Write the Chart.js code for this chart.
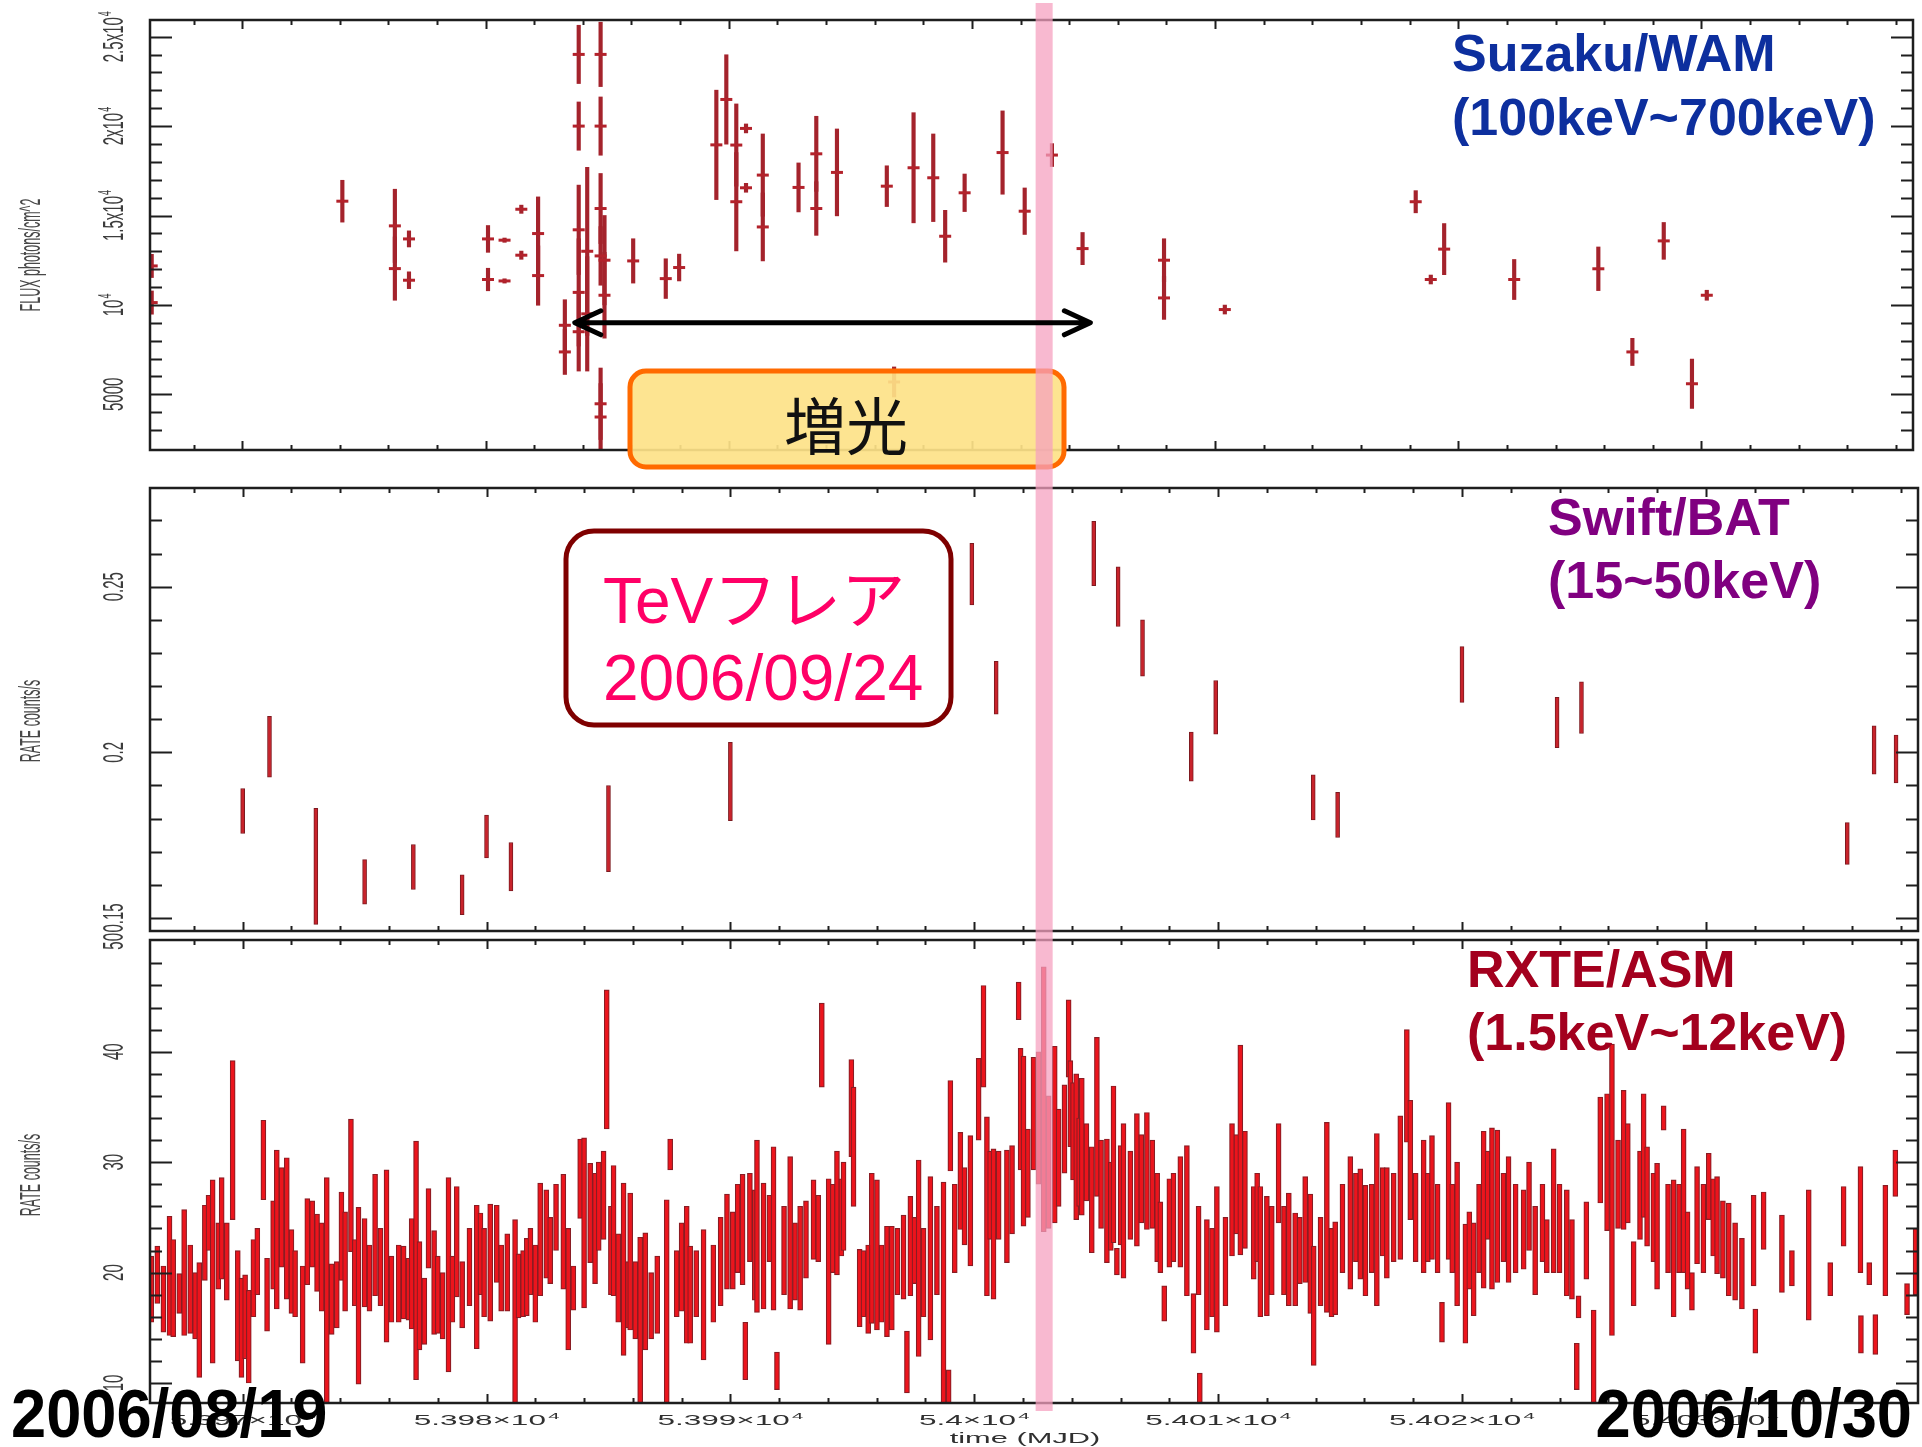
<!DOCTYPE html>
<html>
<head>
<meta charset="utf-8">
<title>Mrk 501 light curves, 2006/08/19 – 2006/10/30</title>
<script src="https://cdn.jsdelivr.net/npm/chart.js@4.4.1/dist/chart.umd.min.js"></script>
<style>
  html, body { margin: 0; padding: 0; background: #ffffff; }
  #wrap { position: relative; width: 1922px; height: 1447px; overflow: hidden; background: #ffffff; }
  #wrap canvas { position: absolute; left: 0; top: 0; }
</style>
</head>
<body>
<div id="wrap">
  <canvas id="cWam" width="1922" height="1447"></canvas>
  <canvas id="cBat" width="1922" height="1447"></canvas>
  <canvas id="cAsm" width="1922" height="1447"></canvas>
  <canvas id="cNote" width="1922" height="1447"></canvas>
</div>
<script>
// ---------------- Suzaku/WAM 100–700 keV flux (photons/cm^2) ----------------
const wamMjd = [53966.27, 53966.27, 53974.11, 53976.27, 53976.27, 53976.85, 53976.85, 53980.10, 53980.10, 53980.78,
  53980.78, 53981.47, 53981.47, 53982.16, 53982.16, 53983.26, 53983.26, 53983.83, 53983.83, 53983.83,
  53983.83, 53983.83, 53984.18, 53984.18, 53984.73, 53984.73, 53984.73, 53984.73, 53984.73, 53984.73,
  53984.89, 53984.89, 53986.07, 53987.41, 53987.96, 53989.49, 53989.90, 53990.31, 53990.31, 53990.71,
  53990.71, 53991.40, 53991.40, 53992.87, 53993.60, 53993.60, 53994.45, 53996.50, 53996.80, 53997.60,
  53998.41, 53998.90, 53999.70, 54001.26, 54002.17, 54003.29, 54004.55, 54007.90, 54007.90, 54010.40,
  54018.25, 54018.87, 54019.42, 54022.30, 54025.76, 54027.16, 54028.45, 54029.61, 54030.22];
const wamFlux = [12180, 10130, 15800, 14420, 12030, 13690, 11380, 13690, 11420, 13620,
  11340, 15350, 12780, 13990, 11640, 8860, 7370, 24010, 20000, 14200,
  10700, 8500, 13000, 9500, 24010, 20000, 15390, 12740, 4470, 3730,
  12500, 10540, 12460, 11470, 12090, 18950, 21490, 18940, 15770, 19870,
  16550, 17260, 14360, 16570, 18450, 15390, 17410, 16640, 5690, 17670,
  17110, 13840, 16270, 18520, 15240, 18380, 13150, 12500, 10390, 9740,
  15770, 11420, 13120, 11420, 12020, 7370, 13580, 5590, 10540];
const wamErr = [650, 650, 1170, 2050, 1770, 450, 470, 750, 630, 120,
  120, 230, 230, 2050, 1660, 1430, 1260, 1630, 1350, 2500,
  3000, 2200, 4700, 3200, 1800, 1630, 1960, 1640, 2000, 1870,
  2500, 2400, 1240, 1110, 750, 3060, 2500, 2300, 2750, 250,
  250, 2300, 1900, 1370, 2100, 1500, 2430, 1140, 840, 3080,
  2450, 1450, 1050, 2330, 1300, 640, 900, 1200, 1200, 250,
  620, 250, 1430, 1120, 1220, 760, 1030, 1380, 280];

// ---------------- Swift/BAT 15–50 keV rate (counts/s) ----------------
const batMjd = [53970.0, 53971.1, 53973.0, 53975.0, 53977.0, 53979.0, 53980.0, 53981.0, 53985.0, 53990.0,
  53999.9, 54000.9, 54004.9, 54005.9, 54006.9, 54008.9, 54009.9, 54013.9, 54014.9, 54020.0,
  54023.9, 54024.9, 54035.8, 54036.9, 54037.8];
const batRate = [0.1823, 0.2017, 0.1656, 0.1609, 0.1654, 0.1570, 0.1746, 0.1655, 0.1770, 0.1912,
  0.2538, 0.2195, 0.2600, 0.2470, 0.2315, 0.1987, 0.2136, 0.1864, 0.1811, 0.2235,
  0.2090, 0.2135, 0.1725, 0.2007, 0.1980];
const batErr = [0.0068, 0.0092, 0.0175, 0.0067, 0.0068, 0.0060, 0.0065, 0.0073, 0.0130, 0.0118,
  0.0093, 0.0080, 0.0097, 0.0090, 0.0085, 0.0074, 0.0081, 0.0068, 0.0068, 0.0084,
  0.0076, 0.0078, 0.0063, 0.0073, 0.0072];

// ---------------- RXTE/ASM 1.5–12 keV rate (counts/s) ----------------
const asmMjd = [
  53966.25, 53966.50, 53966.75, 53967.00, 53967.15, 53967.40, 53967.60, 53967.85, 53968.05, 53968.22,
  53968.45, 53968.60, 53968.77, 53969.00, 53969.14, 53969.35, 53969.59, 53969.80, 53969.95, 53970.10,
  53970.25, 53970.44, 53970.60, 53970.85, 53971.00, 53971.25, 53971.40, 53971.60, 53971.81, 53972.00,
  53972.15, 53972.46, 53972.65, 53972.85, 53973.05, 53973.24, 53973.45, 53973.65, 53973.86, 53974.05,
  53974.20, 53974.44, 53974.60, 53974.75, 53975.00, 53975.20, 53975.43, 53975.65, 53975.90, 53976.10,
  53976.40, 53976.60, 53976.80, 53976.93, 53977.11, 53977.25, 53977.45, 53977.62, 53977.85, 53978.00,
  53978.20, 53978.44, 53978.60, 53978.78, 53979.00, 53979.30, 53979.60, 53979.75, 53979.90, 53980.15,
  53980.42, 53980.60, 53980.85, 53981.17, 53981.31, 53981.50, 53981.65, 53981.80, 53982.00, 53982.20,
  53982.45, 53982.61, 53982.85, 53983.15, 53983.35, 53983.56, 53983.84, 53984.00, 53984.25, 53984.45,
  53984.60,
  53984.80, 53984.93, 53985.10, 53985.21, 53985.40, 53985.62, 53985.80, 53985.89, 53986.10, 53986.30,
  53986.51, 53986.75, 53987.00, 53987.39, 53987.53, 53987.80, 53988.00, 53988.21, 53988.35, 53988.60,
  53988.90, 53989.30, 53989.60, 53989.86, 53990.10, 53990.30, 53990.50, 53990.61, 53990.80, 53991.00,
  53991.09, 53991.36, 53991.60, 53991.77, 53991.91, 53992.20, 53992.45, 53992.65, 53992.86, 53993.10,
  53993.41, 53993.60, 53993.75, 53994.03, 53994.20, 53994.37, 53994.55, 53994.64, 53994.96, 53995.05,
  53995.30, 53995.46, 53995.65, 53995.80, 53996.01, 53996.20, 53996.42, 53996.62, 53996.85, 53997.10,
  53997.24, 53997.38, 53997.55, 53997.72, 53997.92, 53998.20, 53998.47, 53998.74, 53998.95, 53999.02,
  53999.20, 53999.43, 53999.60, 53999.84, 54000.18, 54000.38, 54000.52, 54000.65, 54000.79, 54001.00,
  54001.34, 54001.55, 54001.82, 54001.90, 54002.02, 54002.20, 54002.43, 54002.64, 54002.85, 54003.05,
  54003.30, 54003.46, 54003.70, 54003.87, 54003.94, 54004.05, 54004.18, 54004.30, 54004.41, 54004.60,
  54004.82, 54005.03, 54005.20, 54005.44, 54005.60, 54005.71, 54005.85, 54006.00, 54006.12, 54006.40,
  54006.67, 54006.85, 54007.08, 54007.30, 54007.50, 54007.63, 54007.79, 54008.00, 54008.17, 54008.45,
  54008.72, 54008.99, 54009.20, 54009.25, 54009.54, 54009.75, 54009.95, 54010.30, 54010.57, 54010.75,
  54010.91, 54011.10, 54011.46, 54011.60, 54011.73, 54012.00, 54012.20, 54012.48, 54012.70, 54012.90,
  54013.16, 54013.35, 54013.57, 54013.78, 54013.92, 54014.20, 54014.46, 54014.65, 54014.80, 54015.10,
  54015.42, 54015.65, 54015.83, 54016.04, 54016.30, 54016.51, 54016.75, 54016.92, 54017.20, 54017.47,
  54017.74, 54017.88, 54018.10, 54018.43, 54018.60, 54018.77, 54019.00, 54019.18, 54019.45, 54019.60,
  54019.80, 54020.14, 54020.30, 54020.48, 54020.70, 54020.89, 54021.05, 54021.23,
  54021.45, 54021.70, 54021.91, 54022.20, 54022.53, 54022.75, 54023.00, 54023.30, 54023.48, 54023.76,
  54024.00, 54024.30, 54024.51, 54024.71, 54024.78, 54025.10, 54025.40, 54025.67, 54025.95, 54026.15,
  54026.40, 54026.63, 54026.80, 54027.04, 54027.30, 54027.45, 54027.59, 54027.85, 54028.00, 54028.27,
  54028.45, 54028.68, 54028.90, 54029.09, 54029.25, 54029.43, 54029.64, 54029.90, 54030.12, 54030.30,
  54030.46, 54030.70, 54030.94, 54031.20, 54031.48, 54031.96, 54032.03, 54032.37, 54033.12, 54033.53,
  54034.22, 54035.10, 54035.65, 54036.34, 54036.36, 54036.70, 54036.95, 54037.36, 54037.77, 54038.25,
  54038.60];
const asmRate = [
  18.5, 19.8, 17.6, 19.7, 18.6, 18.1, 20.0, 18.5, 17.0, 15.7,
  22.7, 24.5, 20.1, 21.5, 24.0, 21.0, 32.0, 17.0, 15.0, 16.0,
  14.2, 19.5, 21.0, 30.2, 18.0, 22.5, 23.9, 25.0, 24.0, 20.1,
  19.0, 16.2, 22.8, 23.5, 21.8, 20.5, 18.4, 17.6, 18.0, 23.3,
  21.0, 27.9, 20.0, 17.9, 20.9, 19.5, 23.4, 20.5, 21.5, 18.5,
  19.0, 19.1, 18.5, 19.9, 21.1, 17.9, 16.5, 24.0, 19.1, 18.0,
  17.0, 19.8, 18.5, 22.8, 18.0, 20.5, 19.6, 21.7, 20.0, 20.9,
  22.6, 19.5, 20.0, 16.5, 18.8, 19.0, 19.6, 21.0, 19.0, 23.0,
  23.5, 22.0, 25.0, 23.7, 18.5, 18.6, 28.5, 24.5, 25.4, 24.0,
  26.0,
  27.0, 39.3, 22.0, 23.8, 19.5, 20.3, 18.0, 21.0, 17.5, 15.7,
  18.3, 17.0, 18.0, 17.4, 30.7, 19.0, 20.5, 19.8, 18.0, 19.0,
  18.0, 19.0, 21.0, 22.8, 22.0, 24.0, 23.9, 12.9, 25.0, 22.5,
  24.2, 22.4, 24.0, 24.0, 11.1, 22.0, 23.6, 21.0, 21.3, 23.0,
  24.8, 24.0, 40.6, 21.0, 24.0, 25.4, 25.0, 26.0, 34.9, 31.4,
  18.6, 19.0, 18.5, 22.2, 21.6, 19.0, 19.2, 19.5, 21.0, 21.4,
  11.9, 22.4, 22.0, 21.3, 20.0, 21.3, 22.0, 18.2, 9.7, 33.3,
  24.0, 28.3, 26.0, 26.5, 35.7, 41.4, 26.0, 27.0, 24.4, 27.0,
  26.0, 27.5, 44.6, 34.8, 31.9, 29.0, 34.4, 34.0, 35.7, 30.0,
  32.5, 30.4, 33.0, 41.2, 35.3, 32.8, 31.4, 30.0, 31.4, 30.0,
  26.6, 34.1, 28.0, 26.5, 26.0, 29.8, 21.0, 27.0, 26.5, 27.0,
  28.4, 28.5, 29.2, 28.0, 25.0, 23.2, 17.2, 24.5, 25.0, 25.5,
  24.7, 15.4, 22.0, 9.4, 19.8, 20.0, 21.2, 21.0, 27.5, 28.0,
  31.1, 27.5, 23.6, 25.0, 21.9, 21.5, 22.0, 29.0, 22.0, 22.1,
  21.2, 22.0, 23.9, 21.7, 17.0, 21.0, 25.0, 20.0, 20.4, 24.0,
  24.5, 25.0, 24.4, 22.9, 24.0, 24.8, 25.5, 24.5, 25.0, 27.7,
  36.9, 30.2, 25.0, 26.0, 25.0, 26.8, 24.0, 15.5, 28.3, 24.0,
  23.5, 19.0, 22.0, 20.3, 24.0, 25.7, 27.0, 25.8,
  26.0, 25.0, 24.8, 24.0, 23.9, 26.0, 22.0, 24.5, 22.4, 25.6,
  24.0, 22.7, 21.2, 11.5, 16.9, 22.9, 12.4, 31.1, 30.0, 27.5,
  28.0, 30.2, 29.0, 19.9, 27.0, 30.6, 26.9, 25.0, 24.2, 34.0,
  24.0, 22.2, 24.0, 26.5, 22.0, 18.3, 25.2, 24.0, 27.8, 25.0,
  24.3, 23.0, 22.1, 21.0, 19.9, 22.9, 14.7, 24.7, 21.7, 20.4,
  21.6, 19.4, 25.1, 24.8, 14.4, 19.9, 14.4, 22.9, 29.0, 17.6,
  21.0];
const asmErr = [
  3.0, 2.6, 3.0, 5.4, 4.4, 1.8, 5.7, 4.0, 3.0, 5.2,
  3.4, 2.5, 8.3, 3.0, 4.6, 3.5, 7.2, 5.0, 4.5, 3.8,
  4.2, 3.5, 3.0, 3.6, 3.3, 4.0, 7.2, 4.5, 6.4, 3.8,
  3.0, 4.4, 3.9, 3.0, 3.5, 4.0, 10.2, 3.2, 3.0, 4.0,
  4.5, 6.0, 3.0, 8.0, 4.0, 3.0, 5.5, 3.5, 7.8, 3.0,
  3.5, 3.3, 2.8, 5.0, 10.8, 4.9, 3.0, 3.6, 4.7, 3.5,
  3.0, 8.8, 3.0, 5.0, 3.0, 3.5, 6.5, 3.7, 4.0, 5.3,
  3.5, 3.0, 3.5, 8.3, 2.9, 3.0, 3.5, 3.0, 3.5, 5.1,
  4.0, 3.0, 3.0, 5.2, 5.5, 2.0, 3.6, 7.7, 4.5, 5.0,
  4.0,
  4.0, 6.3, 4.0, 5.9, 4.0, 7.8, 3.0, 6.2, 3.5, 7.5,
  5.3, 3.0, 3.5, 9.2, 1.4, 3.0, 4.0, 6.2, 4.4, 3.0,
  5.9, 3.5, 4.0, 4.3, 3.5, 4.0, 5.0, 2.6, 4.0, 5.0,
  7.8, 5.7, 3.0, 7.4, 1.7, 4.0, 6.9, 3.5, 4.7, 3.5,
  3.6, 3.0, 3.8, 7.5, 4.0, 5.6, 3.5, 4.0, 4.4, 5.4,
  3.5, 3.0, 4.0, 6.8, 6.8, 3.5, 5.0, 4.7, 3.0, 3.8,
  2.8, 4.5, 3.0, 8.9, 4.0, 7.4, 4.0, 10.0, 1.5, 4.1,
  4.0, 4.4, 3.5, 5.9, 3.7, 4.6, 8.1, 4.0, 6.8, 4.0,
  5.1, 4.0, 1.7, 5.5, 7.7, 4.0, 5.1, 6.0, 12.0, 6.0,
  8.0, 4.4, 4.0, 3.5, 3.9, 4.4, 6.6, 4.0, 6.2, 3.5,
  4.8, 7.2, 4.0, 5.6, 4.0, 7.1, 1.2, 4.5, 7.0, 4.0,
  6.0, 4.0, 5.3, 4.0, 4.0, 3.2, 1.6, 4.0, 4.0, 5.0,
  6.8, 2.7, 4.0, 1.5, 5.0, 4.0, 6.6, 4.0, 6.0, 4.5,
  9.5, 5.3, 4.2, 4.0, 5.9, 5.4, 4.0, 4.5, 4.0, 5.1,
  4.2, 3.0, 4.8, 5.4, 5.4, 4.0, 8.6, 4.0, 4.2, 4.0,
  6.0, 4.0, 5.0, 5.0, 4.0, 7.8, 4.0, 5.0, 4.0, 6.5,
  5.1, 5.4, 4.0, 6.0, 4.0, 5.6, 4.0, 1.8, 7.1, 4.0,
  6.5, 5.4, 3.5, 4.2, 4.0, 7.1, 4.0, 7.3,
  6.9, 4.0, 5.7, 4.0, 3.6, 4.0, 4.0, 3.5, 2.4, 5.6,
  4.0, 4.8, 3.6, 2.1, 1.0, 3.5, 4.2, 4.8, 6.2, 13.2,
  4.0, 6.3, 4.5, 2.9, 4.0, 5.6, 4.5, 4.0, 5.7, 1.1,
  4.0, 6.2, 4.0, 6.5, 3.5, 1.7, 4.4, 4.0, 3.0, 3.5,
  4.4, 3.5, 4.2, 3.5, 3.2, 4.1, 2.0, 2.6, 3.5, 1.6,
  5.9, 1.5, 2.7, 4.8, 1.7, 1.0, 1.8, 5.0, 2.1, 1.4,
  3.0];

// ---------------- axes: ranges, ticks, tick labels ----------------
const mjdRange = [53966.2, 54038.7];
const mjdMajor = [53970, 53980, 53990, 54000, 54010, 54020, 54030];
const mjdLabels = ['5.397', '5.398', '5.399', '5.4', '5.401', '5.402', '5.403'];
const wamRange = [1885, 25934];
const wamTicks = [5000, 10000, 15000, 20000, 25000];
const wamTickLabels = [['5000', ''], ['10', '4'], ['1.5x10', '4'], ['2x10', '4'], ['2.5x10', '4']];
const batRange = [0.14608, 0.27979];
const batTicks = [0.15, 0.2, 0.25];
const batTickLabels = ['0.15', '0.2', '0.25'];
const asmRange = [8.19, 50.12];
const asmTicks = [10, 20, 30, 40, 50];
const asmTickLabels = ['10', '20', '30', '40', '50'];

// TeV flare window and the brightening period marked on the WAM panel
const flareBand = [54002.62, 54003.32];
const brightening = [53983.67, 54004.87];
const brighteningLevel = 9000;

// ---------------- page geometry ----------------
const W = 1922, H = 1447;
const PLOT_LEFT = 150, PLOT_RIGHT = 1918;
const FONT = '"Liberation Sans", Arial, sans-serif';

function errorBars(t, v, e) {
  return t.map((x, i) => ({ x, y: [v[i] - e[i], v[i] + e[i]] }));
}
function centres(t, v) {
  return t.map((x, i) => ({ x, y: v[i] }));
}

// text centred on the origin, with an optional superscript
function drawSupText(ctx, base, sup, size) {
  ctx.font = size + 'px ' + FONT;
  const w = ctx.measureText(base).width;
  const supSize = Math.round(size * 0.62);
  ctx.font = supSize + 'px ' + FONT;
  const sw = sup ? ctx.measureText(sup).width + 1 : 0;
  const left = -(w + sw) / 2;
  ctx.font = size + 'px ' + FONT;
  ctx.fillText(base, left, 0);
  if (sup) {
    ctx.font = supSize + 'px ' + FONT;
    ctx.fillText(sup, left + w + 1, -size * 0.42);
  }
}

function axisFrame(spec) {
  return {
    id: 'axisFrame',
    afterDatasetsDraw(chart) {
      const { ctx, chartArea: a, scales: { x, y } } = chart;
      ctx.save();
      ctx.strokeStyle = '#1e1e1e';
      ctx.lineWidth = 2;
      ctx.beginPath();
      // time ticks every 2 days, long ones every 10 days, on top and bottom
      for (let d = 53968; d <= 54038; d += 2) {
        const px = Math.round(x.getPixelForValue(d)) + 0.5;
        const len = d % 10 === 0 ? 9 : 5;
        ctx.moveTo(px, a.top); ctx.lineTo(px, a.top + len);
        ctx.moveTo(px, a.bottom); ctx.lineTo(px, a.bottom - len);
      }
      // value ticks on left and right
      spec.yTicks.forEach(t => {
        const py = Math.round(y.getPixelForValue(t.v)) + 0.5;
        if (py < a.top + 2 || py > a.bottom - 2) return;
        const len = t.major ? 22 : 12;
        ctx.moveTo(a.left, py); ctx.lineTo(a.left + len, py);
        ctx.moveTo(a.right, py); ctx.lineTo(a.right - len, py);
      });
      ctx.stroke();
      ctx.lineWidth = 2.5;
      ctx.strokeRect(a.left, a.top, a.right - a.left, a.bottom - a.top);

      // rotated tick labels on the value axis
      ctx.fillStyle = '#3c3c3c';
      ctx.textBaseline = 'alphabetic';
      ctx.textAlign = 'left';
      spec.yLabels.forEach(l => {
        const py = y.getPixelForValue(l.v);
        ctx.save();
        ctx.translate(123, py);
        ctx.scale(1.95, 1);
        ctx.rotate(-Math.PI / 2);
        drawSupText(ctx, l.base, l.sup, 15);
        ctx.restore();
      });
      // axis title
      ctx.save();
      ctx.fillStyle = '#484848';
      ctx.translate(40, spec.titleY);
      ctx.scale(2.4, 1);
      ctx.rotate(-Math.PI / 2);
      drawSupText(ctx, spec.title, '', 12.5);
      ctx.restore();

      if (spec.timeLabels) {
        ctx.fillStyle = '#303030';
        mjdMajor.forEach((d, i) => {
          ctx.save();
          ctx.translate(x.getPixelForValue(d), 1425);
          ctx.scale(2.25, 1);
          drawSupText(ctx, mjdLabels[i] + '\u00d710', '4', 14);
          ctx.restore();
        });
        ctx.save();
        ctx.translate(1025, 1443);
        ctx.scale(2.2, 1);
        drawSupText(ctx, 'time (MJD)', '', 14);
        ctx.restore();
      }
      ctx.restore();
    }
  };
}

function makePanel(id, top, bottom, range, datasets, spec) {
  return new Chart(document.getElementById(id), {
    type: 'bar',
    data: { datasets },
    options: {
      responsive: false,
      animation: false,
      devicePixelRatio: 1,
      events: [],
      layout: { padding: { left: PLOT_LEFT, right: W - PLOT_RIGHT, top, bottom: H - bottom } },
      plugins: { legend: { display: false }, tooltip: { enabled: false }, title: { display: false } },
      scales: {
        x: { type: 'linear', min: mjdRange[0], max: mjdRange[1], display: false, offset: false },
        y: { type: 'linear', min: range[0], max: range[1], display: false, beginAtZero: false }
      }
    },
    plugins: [axisFrame(spec)]
  });
}

// ---------------- Suzaku/WAM panel ----------------
const wamYTicks = [];
for (let k = 3; k <= 25; k++) wamYTicks.push({ v: k * 1000, major: k % 5 === 0 });
const wamChart = makePanel('cWam', 20, 450, wamRange, [
  { type: 'bar', data: errorBars(wamMjd, wamFlux, wamErr), backgroundColor: '#a4232c',
    borderWidth: 0, barThickness: 3.5, grouped: false, order: 2 },
  { type: 'scatter', data: centres(wamMjd, wamFlux), pointStyle: 'line', pointRadius: 6,
    borderColor: '#b3222b', borderWidth: 3, showLine: false, order: 1 }
], {
  yTicks: wamYTicks,
  yLabels: wamTicks.map((v, i) => ({ v, base: wamTickLabels[i][0], sup: wamTickLabels[i][1] })),
  title: 'FLUX photons/cm^2', titleY: 255, timeLabels: false
});

// ---------------- Swift/BAT panel ----------------
const batYTicks = [];
for (let k = 15; k <= 27; k++) batYTicks.push({ v: k / 100, major: k % 5 === 0 });
const batChart = makePanel('cBat', 488, 931, batRange, [
  { type: 'bar', data: errorBars(batMjd, batRate, batErr), backgroundColor: '#c8232b',
    borderColor: '#7c1a20', borderWidth: 1, borderSkipped: false, barThickness: 4, grouped: false }
], {
  yTicks: batYTicks,
  yLabels: batTicks.map((v, i) => ({ v, base: batTickLabels[i], sup: '' })),
  title: 'RATE counts/s', titleY: 721, timeLabels: false
});

// ---------------- RXTE/ASM panel ----------------
const asmYTicks = [];
for (let k = 5; k <= 25; k++) asmYTicks.push({ v: k * 2, major: k % 5 === 0 });
const asmChart = makePanel('cAsm', 940, 1403, asmRange, [
  { type: 'bar', data: errorBars(asmMjd, asmRate, asmErr), backgroundColor: '#ec141c',
    borderColor: '#8a1c23', borderWidth: 1.2, borderSkipped: false, barThickness: 5, grouped: false }
], {
  yTicks: asmYTicks,
  yLabels: asmTicks.map((v, i) => ({ v, base: asmTickLabels[i], sup: '' })),
  title: 'RATE counts/s', titleY: 1175, timeLabels: true
});

// ---------------- annotations ----------------
function roundRect(ctx, x, y, w, h, r) {
  ctx.beginPath();
  ctx.moveTo(x + r, y);
  ctx.arcTo(x + w, y, x + w, y + h, r);
  ctx.arcTo(x + w, y + h, x, y + h, r);
  ctx.arcTo(x, y + h, x, y, r);
  ctx.arcTo(x, y, x + w, y, r);
  ctx.closePath();
}

const note = document.getElementById('cNote').getContext('2d');
const xs = wamChart.scales.x;

// "増光" box
roundRect(note, 630, 371, 434, 96, 16);
note.fillStyle = 'rgba(253, 226, 136, 0.92)';
note.fill();
note.lineWidth = 5;
note.strokeStyle = '#ff6a00';
note.stroke();
note.fillStyle = '#111111';
note.font = '62px "Noto Sans CJK JP", sans-serif';
note.textAlign = 'center';
note.textBaseline = 'middle';
note.fillText('増光', 846, 426);

// TeV flare band through all panels
const bandL = xs.getPixelForValue(flareBand[0]);
const bandR = xs.getPixelForValue(flareBand[1]);
note.fillStyle = 'rgba(246, 160, 192, 0.74)';
note.fillRect(bandL, 3, bandR - bandL, 1408);

// double-headed arrow for the brightening period
const ay = wamChart.scales.y.getPixelForValue(brighteningLevel);
const ax1 = xs.getPixelForValue(brightening[0]);
const ax2 = xs.getPixelForValue(brightening[1]);
note.strokeStyle = '#000000';
note.lineWidth = 5;
note.lineCap = 'round';
note.lineJoin = 'round';
note.beginPath();
note.moveTo(ax1 + 2, ay); note.lineTo(ax2 - 2, ay);
note.moveTo(ax1 + 26, ay - 12); note.lineTo(ax1, ay); note.lineTo(ax1 + 26, ay + 12);
note.moveTo(ax2 - 26, ay - 12); note.lineTo(ax2, ay); note.lineTo(ax2 - 26, ay + 12);
note.stroke();

// TeV flare label
roundRect(note, 566, 531, 385, 194, 28);
note.fillStyle = '#ffffff';
note.fill();
note.lineWidth = 5;
note.strokeStyle = '#7f0000';
note.stroke();
note.fillStyle = '#ff0066';
note.textAlign = 'left';
note.textBaseline = 'alphabetic';
note.font = '64px ' + FONT.replace('sans-serif', '"Noto Sans CJK JP", sans-serif');
note.fillText('TeVフレア', 603, 623);
note.fillText('2006/09/24', 603, 700);

// instrument labels
note.font = 'bold 52px ' + FONT;
note.fillStyle = '#0d2f9e';
note.fillText('Suzaku/WAM', 1452, 71);
note.fillText('(100keV~700keV)', 1452, 135);
note.fillStyle = '#800080';
note.fillText('Swift/BAT', 1548, 535);
note.fillText('(15~50keV)', 1548, 598);
note.fillStyle = '#a3001e';
note.fillText('RXTE/ASM', 1467, 987);
note.fillText('(1.5keV~12keV)', 1467, 1050);

// start and end dates
note.fillStyle = '#000000';
note.font = 'bold 68px ' + FONT;
note.save();
note.translate(11, 1437);
note.scale(0.93, 1);
note.textAlign = 'left';
note.fillText('2006/08/19', 0, 0);
note.restore();
note.save();
note.translate(1912, 1437);
note.scale(0.93, 1);
note.textAlign = 'right';
note.fillText('2006/10/30', 0, 0);
note.restore();
</script>
</body>
</html>
